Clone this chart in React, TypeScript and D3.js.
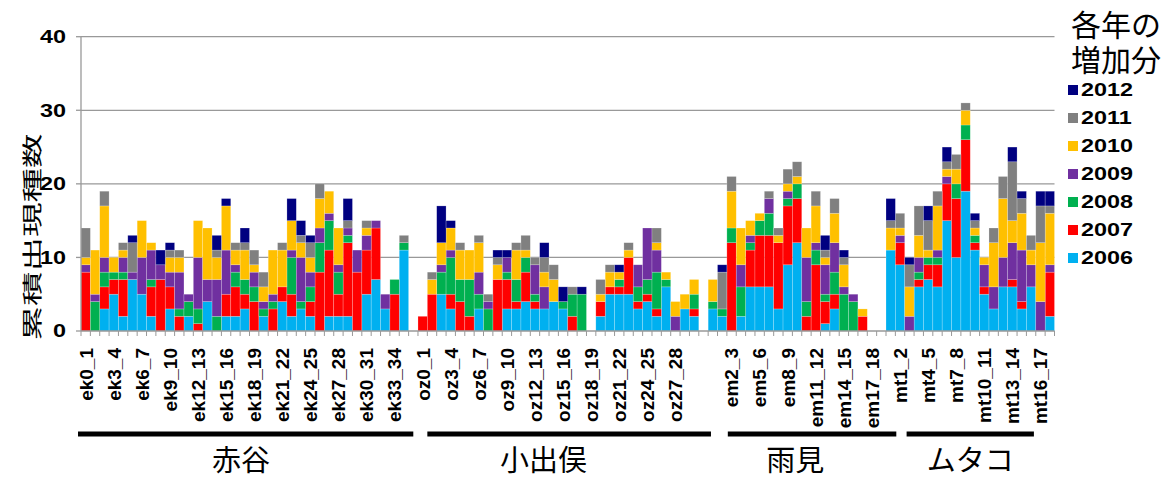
import React from "react";
import * as d3 from "d3";

// ---- categories (blank strings are spacer slots between sites) ----
const ekCats = d3.range(0, 35).map((i) => `ek${i}_${i + 1}`);
const ozCats = d3.range(0, 30).map((i) => `oz${i}_${i + 1}`);
const emCats = d3.range(0, 18).map((i) => `em${i}_${i + 1}`);
const mtCats = d3.range(0, 18).map((i) => `mt${i}_${i + 1}`);
const categories = [...ekCats, "", ...ozCats, "", ...emCats, "", ...mtCats];

const years = ["2006", "2007", "2008", "2009", "2010", "2011", "2012"];
const colors = ["#00B0F0", "#FF0000", "#00B050", "#7030A0", "#FFC000", "#808080", "#000080"];

// ---- series values (increment per year), one per category ----
const s2006 = [0,0,3,5,2,7,5,2,0,3,0,2,0,4,0,2,2,3,0,2,0,4,2,3,2,0,2,2,2,0,5,7,3,0,11, 0,
  0,0,5,3,0,0,3,0,0,3,3,4,3,3,4,3,0,0,0,2,5,5,5,3,4,2,6,0,3,2, 0,
  3,2,0,2,6,6,6,3,9,12,0,0,1,3,0,0,0,0, 0,
  11,9,0,6,7,6,15,10,19,11,5,3,6,6,3,6,0,2];
const s2007 = [8,0,3,2,5,0,0,4,7,3,2,0,1,0,0,3,4,2,4,0,3,2,3,0,2,8,9,3,10,8,6,7,0,5,0, 0,
  2,5,0,2,4,2,0,0,7,4,1,4,1,0,0,0,2,0,0,2,1,1,5,1,1,1,0,0,0,1, 0,
  0,0,12,0,5,7,7,9,8,6,2,9,3,2,0,0,2,0, 0,
  0,3,0,1,2,3,5,8,7,1,1,0,0,1,1,0,0,6];
const s2008 = [0,4,2,1,1,0,0,1,0,0,1,2,2,0,2,0,2,2,2,1,1,0,5,1,2,4,4,3,1,0,0,0,0,2,1, 0,
  0,0,3,5,3,5,2,3,0,1,3,2,1,0,0,1,3,5,0,0,0,1,0,2,2,5,1,0,0,2, 0,
  1,1,2,4,1,2,3,0,1,2,2,2,1,3,5,4,0,0, 0,
  0,0,0,1,1,1,0,2,2,1,0,0,0,0,0,0,0,0];
const s2009 = [1,1,2,0,2,1,5,4,2,2,5,1,7,3,5,6,1,0,2,1,1,0,1,6,2,2,1,1,1,3,2,1,2,0,0, 0,
  0,0,1,1,0,0,3,1,0,2,0,0,4,3,0,0,0,0,0,0,0,0,0,3,7,3,0,2,0,0, 0,
  0,0,0,3,1,0,2,0,1,0,6,1,4,4,1,1,0,0, 0,
  0,1,2,2,0,1,1,0,0,0,3,3,4,5,7,3,4,1];
const s2010 = [1,6,7,2,1,0,5,1,0,2,2,0,5,7,3,6,2,4,1,2,6,5,4,2,2,4,3,5,0,0,1,0,0,0,0, 0,
  0,2,3,3,4,4,4,0,2,0,4,1,0,2,3,0,0,0,0,1,2,1,1,0,0,1,1,2,2,2, 0,
  3,0,5,5,2,1,0,1,1,1,4,5,1,4,3,0,1,0, 0,
  3,1,4,3,1,6,1,2,2,1,1,6,8,3,5,2,8,7];
const s2011 = [4,0,2,0,1,4,0,0,0,1,1,0,0,0,1,0,1,1,2,2,0,1,0,1,2,2,0,0,1,0,1,0,0,0,1, 0,
  0,1,0,0,1,0,1,1,1,0,1,2,1,2,2,0,1,0,0,2,1,0,1,0,0,2,0,0,0,0, 0,
  0,5,2,0,0,0,1,1,2,2,0,2,1,2,1,0,0,0, 0,
  1,2,3,4,4,2,1,2,1,1,0,2,3,8,2,2,5,1];
const s2012 = [0,0,0,0,0,1,0,0,2,1,0,0,0,0,2,1,0,2,0,0,0,0,3,2,1,0,0,0,3,0,0,0,0,0,0, 0,
  0,0,5,1,0,0,0,0,1,1,0,0,0,2,0,2,0,1,0,0,0,1,0,0,0,0,0,0,0,0, 0,
  0,1,0,0,0,0,0,0,0,0,0,0,2,0,1,0,0,0, 0,
  3,0,1,0,2,0,2,0,0,1,0,0,0,2,1,0,2,2];
const seriesValues = [s2006, s2007, s2008, s2009, s2010, s2011, s2012];

const yTicks = [0, 10, 20, 30, 40];

// site annotations: range in category units, label
const sites = [
  { name: "赤谷", from: -0.32, to: 35.5, mid: 17.1 },
  { name: "小出俣", from: 37.0, to: 67.3, mid: 49.4 },
  { name: "雨見", from: 69.1, to: 87.1, mid: 76.3 },
  { name: "ムタコ", from: 88.2, to: 101.8, mid: 95.0 },
];

const W = 1171;
const H = 481;
const left = 81;
const right = 1054.5;
const top = 36.7;
const bottom = 331;

export default function App() {
  const idx = categories.map((_, i) => i);
  const x = d3.scaleBand<number>().domain(idx).range([left, right]).padding(0);
  const y = d3.scaleLinear().domain([0, 40]).range([bottom, top]);
  const bw = x.bandwidth();
  const cu = (v: number) => left + v * bw; // category-unit to px for annotations

  const rows = idx.map((i) => {
    const r: any = { i };
    years.forEach((yr, k) => (r[yr] = seriesValues[k][i]));
    return r;
  });
  const stacked = d3.stack<any>().keys(years)(rows);

  const labelFont = "'Liberation Sans', Arial, sans-serif";
  const cjkFont = "'Noto Sans CJK JP', sans-serif";

  return (
    <svg width={W} height={H} style={{ position: "absolute", left: 0, top: 0, background: "#fff" }}>
      {/* gridlines */}
      {yTicks.filter((t) => t > 0).map((t) => (
        <line key={t} x1={left} x2={right} y1={y(t)} y2={y(t)} stroke="#999" strokeWidth={1.3} />
      ))}
      {/* bars */}
      {stacked.map((layer, k) => (
        <g key={years[k]} fill={colors[k]}>
          {layer.map((d, i) =>
            d[1] - d[0] > 0 ? (
              <rect key={i} x={x(i)} y={y(d[1])} width={bw} height={y(d[0]) - y(d[1])}
                stroke="rgba(255,255,255,0.35)" strokeWidth={0.6} />
            ) : null
          )}
        </g>
      ))}
      {/* axes */}
      <line x1={left} x2={left} y1={top} y2={bottom} stroke="#999" strokeWidth={1.3} />
      <line x1={left} x2={right} y1={bottom} y2={bottom} stroke="#999" strokeWidth={1.3} />
      {yTicks.map((t) => (
        <g key={t}>
          <line x1={left - 5} x2={left} y1={y(t)} y2={y(t)} stroke="#999" strokeWidth={1.3} />
          <text transform={`translate(${left - 15},${y(t)}) scale(1.3,1)`} textAnchor="end" dy="0.36em"
            fontFamily={labelFont} fontWeight="bold" fontSize={18} fill="#000">{t}</text>
        </g>
      ))}
      {idx.concat([categories.length]).map((i) => (
        <line key={i} x1={left + i * bw} x2={left + i * bw} y1={bottom} y2={bottom + 5} stroke="#999" strokeWidth={1} />
      ))}
      {categories.map((c, i) =>
        i % 3 === 0 && c ? (
          <text key={i} transform={`translate(${x(i)! + bw / 2},348) rotate(-90)`} textAnchor="end" dy="0.36em"
            fontFamily={labelFont} fontWeight="bold" fontSize={19} fill="#000">{c}</text>
        ) : null
      )}
      {/* y title */}
      <text transform={`translate(33,237) rotate(-90)`} textAnchor="middle" dy="0.36em"
        fontFamily={cjkFont} fontSize={20} textLength={207} lengthAdjust="spacingAndGlyphs" fill="#000">累積出現種数</text>
      {/* site brackets */}
      {sites.map((s) => (
        <g key={s.name}>
          <line x1={cu(s.from)} x2={cu(s.to)} y1={434} y2={434} stroke="#000" strokeWidth={5} />
          <text x={cu(s.mid)} y={471} textAnchor="middle" fontFamily={cjkFont} fontSize={29} fill="#000">{s.name}</text>
        </g>
      ))}
      {/* legend */}
      <text fontFamily={cjkFont} fontSize={30} fill="#000">
        <tspan x={1071} y={36}>各年の</tspan>
        <tspan x={1071} y={71}>増加分</tspan>
      </text>
      {years.slice().reverse().map((yr, j) => {
        const k = years.length - 1 - j;
        const cy = 90 + j * 28;
        return (
          <g key={yr}>
            <rect x={1068} y={cy - 5} width={10} height={10} fill={colors[k]} />
            <text transform={`translate(1081,${cy}) scale(1.3,1)`} dy="0.36em" fontFamily={labelFont}
              fontWeight="bold" fontSize={18} fill="#000">{yr}</text>
          </g>
        );
      })}
    </svg>
  );
}
